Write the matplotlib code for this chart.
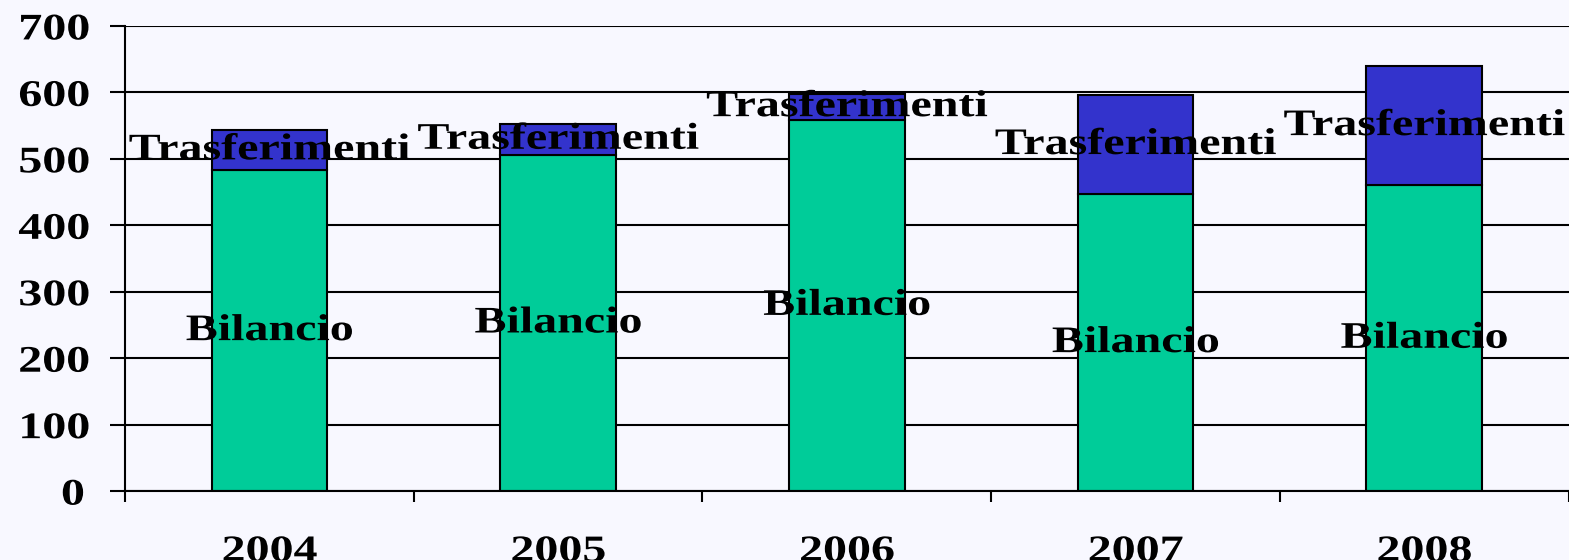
import numpy as np
import matplotlib
matplotlib.use('Agg')
import matplotlib.pyplot as plt
from matplotlib.patheffects import AbstractPathEffect
from matplotlib.transforms import Affine2D

# data
years = ['2004', '2005', '2006', '2007', '2008']
bilancio = [483, 506, 559, 447, 460]
trasferimenti = [61, 47, 39, 149, 180]
yticks = [0, 100, 200, 300, 400, 500, 600, 700]


class Stretch(AbstractPathEffect):
    # widen text horizontally around its own centre (reference text is stretched)
    def __init__(self, sx):
        super().__init__()
        self.sx = sx

    def draw_path(self, renderer, gc, tpath, affine, rgbFace=None):
        pts = affine.transform(tpath.vertices)
        if len(pts):
            cx = (pts[:, 0].min() + pts[:, 0].max()) / 2
        else:
            cx = 0
        aff = affine + Affine2D().translate(-cx, 0).scale(self.sx, 1).translate(cx, 0)
        renderer.draw_path(gc, tpath, aff, rgbFace)


stretch = [Stretch(1.28)]
font = dict(family=['Liberation Serif', 'FreeSerif', 'Tinos', 'DejaVu Serif'], weight='bold', size=27)

fig = plt.figure(figsize=(15.69, 5.6), dpi=100)
fig.patch.set_facecolor('#F8F8FF')
ax = fig.add_axes([0.0797, 0.123, 0.92, 0.8307])
ax.set_facecolor('#F8F8FF')

x = np.arange(len(years))
b1 = ax.bar(x, bilancio, width=0.4, color='#00CC99', edgecolor='black', linewidth=1.5, zorder=2)
b2 = ax.bar(x, trasferimenti, width=0.4, bottom=bilancio, color='#3333CC',
            edgecolor='black', linewidth=1.5, zorder=2)

for t in ax.bar_label(b1, labels=['Bilancio'] * len(years), label_type='center', **font):
    t.set_path_effects(stretch)
    t.set_zorder(5)
for t in ax.bar_label(b2, labels=['Trasferimenti'] * len(years), label_type='center', **font):
    t.set_path_effects(stretch)
    t.set_zorder(5)

ax.set_xlim(-0.5, 4.5)
ax.set_ylim(0, 700)
ax.set_yticks(yticks)
ax.set_yticklabels([str(v) for v in yticks], **font)
ax.set_xticks(x)
ax.set_xticklabels(years, **font)
for t in ax.get_xticklabels() + ax.get_yticklabels():
    t.set_path_effects(stretch)

ax.set_xticks(np.arange(-0.5, 5.0, 1.0), minor=True)
ax.tick_params(axis='x', which='major', length=0, pad=31)
ax.tick_params(axis='x', which='minor', length=8, width=1.5, direction='out', color='black')
ax.tick_params(axis='y', length=11, width=1.5, direction='out', pad=20)

ax.yaxis.grid(True, color='black', linewidth=1.5, zorder=0)
ax.set_axisbelow(True)
for s in ['top', 'right']:
    ax.spines[s].set_visible(False)
for s in ['left', 'bottom']:
    ax.spines[s].set_linewidth(1.5)
    ax.spines[s].set_zorder(3)

fig.savefig('out.png', dpi=100, facecolor=fig.get_facecolor())
